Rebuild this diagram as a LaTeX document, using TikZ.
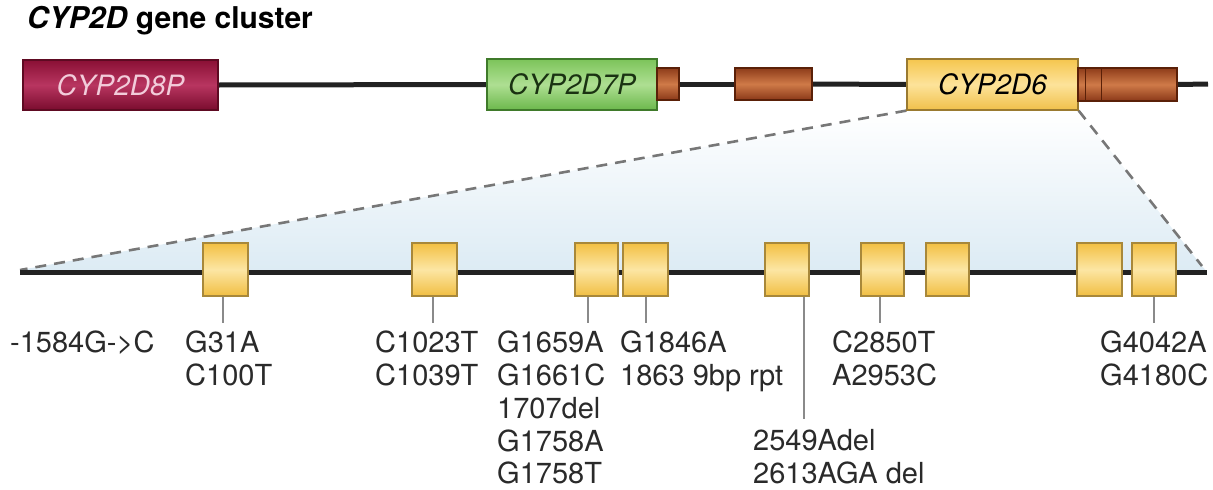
\documentclass[tikz,border=0pt]{standalone}
\usepackage{fontspec}
\setmainfont{TeX Gyre Heros}
\pgfdeclarelayer{background}
\pgfsetlayers{background,main}
\definecolor{dna}{HTML}{222222}
\definecolor{tickc}{HTML}{8A8A8A}
\definecolor{dashc}{HTML}{777777}
\definecolor{skyc}{HTML}{DCEBF4}
\definecolor{labc}{HTML}{2A2A2A}
\definecolor{redB}{HTML}{5E0A22}
\definecolor{redT}{HTML}{8A1035}
\definecolor{redM}{HTML}{B83560}
\definecolor{redD}{HTML}{7A0C2E}
\definecolor{redText}{HTML}{F2CCDA}
\definecolor{brB}{HTML}{5A2008}
\definecolor{brT}{HTML}{8E3C1A}
\definecolor{brM}{HTML}{CF7A48}
\definecolor{brD}{HTML}{8A3818}
\definecolor{exB}{HTML}{A8883A}
\definecolor{exT}{HTML}{F3C043}
\definecolor{exM}{HTML}{FCE6A4}
\definecolor{exD}{HTML}{F1BE42}
\definecolor{greenB}{HTML}{3F7A2A}
\definecolor{greenT}{HTML}{7CC45A}
\definecolor{greenM}{HTML}{AEDF92}
\definecolor{greenD}{HTML}{6CB84C}
\definecolor{greenText}{HTML}{1A3212}
\definecolor{yelB}{HTML}{9A7A30}
\definecolor{yelT}{HTML}{F5C64E}
\definecolor{yelM}{HTML}{FDE39A}
\definecolor{yelD}{HTML}{F0C04A}
\tikzset{
  gene/.style={draw, line width=1.2pt, inner sep=0pt, font=\fontsize{28}{30}\selectfont\itshape},
  pseudoA/.style={gene, draw=redB, top color=redT, bottom color=redD, middle color=redM, text=redText},
  brownbox/.style={draw=brB, line width=1.2pt, inner sep=0pt, top color=brT, bottom color=brD, middle color=brM},
  exon/.style={draw=exB, line width=1.2pt, inner sep=0pt, minimum height=53pt, top color=exT, bottom color=exD, middle color=exM},
  dnaline/.style={draw=dna, line width=5pt},
  ticks/.style={draw=tickc, line width=1.6pt},
  zoomline/.style={draw=dashc, line width=2.6pt, dash pattern=on 11pt off 8pt},
  lab/.style={anchor=north west, inner sep=0pt, align=left, font=\fontsize{29}{32.75}\selectfont, text=labc},
}
\begin{document}
\begin{tikzpicture}[x=1pt,y=-1pt]
\useasboundingbox (0,0) rectangle (1213,490);
% title
\node[anchor=base west, inner sep=0pt, font=\fontsize{30}{32}\selectfont\bfseries] (title) at (27,28) {\textit{CYP2D} gene cluster};
% top gene cluster
\node[pseudoA, minimum width=195pt, minimum height=50pt] (d8p) at (120.5,85) {CYP2D8P};
\node[gene, draw=greenB, top color=greenT, bottom color=greenD, middle color=greenM, text=greenText, minimum width=170pt, minimum height=51pt] (d7p) at (572,84.5) {CYP2D7P};
\node[brownbox, minimum width=22pt, minimum height=32pt] (b1) at (668,84) {};
\node[brownbox, minimum width=77pt, minimum height=32pt] (b2) at (773.5,84) {};
\node[gene, draw=yelB, top color=yelT, bottom color=yelD, middle color=yelM, text=black, minimum width=171pt, minimum height=51pt] (d6) at (992.5,84.5) {CYP2D6};
\node[brownbox, minimum width=99pt, minimum height=33pt] (b3) at (1127.5,84.5) {};
\draw[brB, line width=1.2pt] ([xshift=8pt]b3.north west) -- ([xshift=8pt]b3.south west);
\draw[brB, line width=1.2pt] ([xshift=24pt]b3.north west) -- ([xshift=24pt]b3.south west);
\coordinate (topend) at (1208,84);
\begin{pgfonlayer}{background}
\draw[dnaline] (d8p.east) -- (d7p.west);
\draw[dnaline] (b1.east) -- (b2.west);
\draw[dnaline] (b2.east) -- (d6.west);
\draw[dnaline] (b3.east) -- (topend);
\end{pgfonlayer}
% lower gene
\coordinate (L) at (20,272);
\coordinate (R) at (1207,272);
\coordinate (Ld) at (20,270);
\coordinate (Rd) at (1202,266);
\node[exon, minimum width=45pt] (e1) at (225.5,269.5) {};
\node[exon, minimum width=45pt] (e2) at (434.5,269.5) {};
\node[exon, minimum width=43pt] (e3) at (596.5,269.5) {};
\node[exon, minimum width=45pt] (e4) at (645.5,269.5) {};
\node[exon, minimum width=44pt] (e5) at (787,269.5) {};
\node[exon, minimum width=43pt] (e6) at (882.5,269.5) {};
\node[exon, minimum width=43pt] (e7) at (947.5,269.5) {};
\node[exon, minimum width=45pt] (e8) at (1099.5,269.5) {};
\node[exon, minimum width=44pt] (e9) at (1154,269.5) {};
\begin{pgfonlayer}{background}
\shade[top color=white, bottom color=skyc] (d6.south west) -- (d6.south east) -- (Rd) -- (R) -- (L) -- (Ld) -- cycle;
\draw[zoomline] (d6.south west) -- (Ld);
\draw[zoomline] (d6.south east) -- (Rd);
\draw[dnaline] (L) -- (R);
\end{pgfonlayer}
% labels
\node[lab] (l0) at (10,331) {-1584G->C};
\node[lab] (l1) at (185,331) {G31A\\C100T};
\node[lab] (l2) at (375,331) {C1023T\\C1039T};
\node[lab] (l3) at (497,331) {G1659A\\G1661C\\1707del\\G1758A\\G1758T};
\node[lab] (l4) at (620,331) {G1846A\\1863 9bp rpt};
\node[lab] (l5) at (753,429) {2549Adel\\2613AGA del};
\node[lab] (l6) at (832,331) {C2850T\\A2953C};
\node[lab] (l7) at (1100,331) {G4042A\\G4180C};
% ticks
\draw[ticks] ([xshift=-2.5pt]e1.south) -- ++(0,26);
\draw[ticks] ([xshift=-1.5pt]e2.south) -- ++(0,26);
\draw[ticks] ([xshift=-8.5pt]e3.south) -- ++(0,26);
\draw[ticks] ([xshift=0.5pt]e4.south) -- ++(0,26);
\draw[ticks] ([xshift=17pt]e5.south) -- ++(0,122);
\draw[ticks] ([xshift=-2.5pt]e6.south) -- ++(0,26);
\draw[ticks] (e9.south) -- ++(0,26);
\end{tikzpicture}
\end{document}
